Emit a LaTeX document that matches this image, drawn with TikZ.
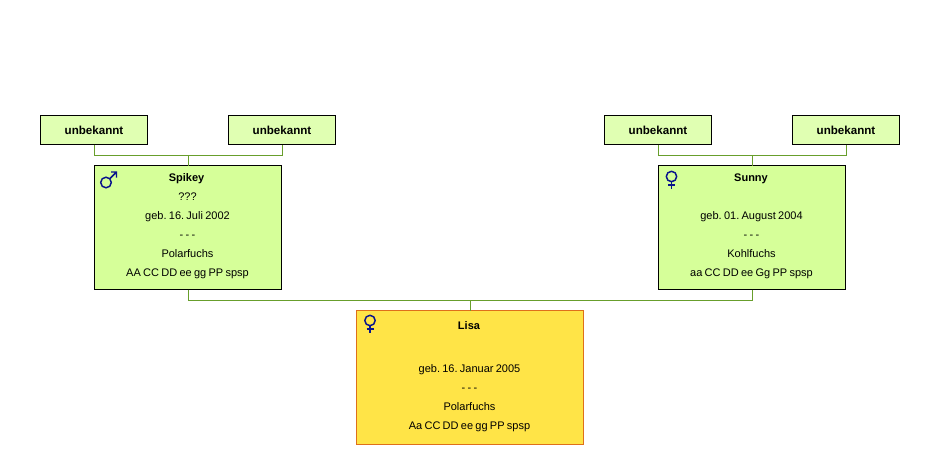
\documentclass[tikz,border=0pt]{standalone}
\usepackage{fontspec}
\setmainfont[WordSpace=0.75]{Liberation Sans}
\definecolor{lightbox}{RGB}{224,255,178}
\definecolor{parentbox}{RGB}{214,255,153}
\definecolor{childbox}{RGB}{255,228,71}
\definecolor{childedge}{RGB}{222,112,26}
\definecolor{linkgreen}{RGB}{104,158,44}
\definecolor{symblue}{RGB}{10,20,140}
\tikzset{
  x=0.75pt,y=-0.75pt,
  box/.style={draw=black,line width=0.75pt,inner sep=0pt,outer sep=0pt,anchor=north west},
  unknownbox/.style={box,fill=lightbox,minimum width=80.25pt,minimum height=21.75pt,font=\fontsize{8.7}{10}\selectfont\bfseries,text=black},
  parentnode/.style={box,fill=parentbox,minimum width=140.25pt,minimum height=93pt},
  childnode/.style={box,draw=childedge,fill=childbox,minimum width=170.25pt,minimum height=100.5pt},
  link/.style={draw=linkgreen,line width=0.75pt},
  titletext/.style={anchor=base,inner sep=0pt,font=\fontsize{8.25}{10}\selectfont\bfseries\frenchspacing},
  linetext/.style={anchor=base,inner sep=0pt,font=\fontsize{8.25}{10}\selectfont\frenchspacing},
  sym/.style={draw=symblue,line width=1.1pt}
}
\begin{document}
\begin{tikzpicture}
\useasboundingbox (0,0) rectangle (940,465);
\fill[white] (0,0) rectangle (940,465);
% boxes
\node[unknownbox] (u1) at (40.5,115.5) {unbekannt};
\node[unknownbox] (u2) at (228.5,115.5) {unbekannt};
\node[unknownbox] (u3) at (604.5,115.5) {unbekannt};
\node[unknownbox] (u4) at (792.5,115.5) {unbekannt};
\node[parentnode] (spikey) at (94.5,165.5) {};
\node[parentnode] (sunny) at (658.5,165.5) {};
\node[childnode] (lisa) at (356.5,310.5) {};
% junctions
\coordinate (j1) at (188.5,155.5);
\coordinate (j2) at (752.5,155.5);
\coordinate (j3) at (470.5,300.5);
% connectors
\draw[link] (u1.south -| spikey.west) |- (j1) -| ([xshift=0.375pt]u2.south);
\draw[link] (j1) -- (j1 |- spikey.north);
\draw[link] (u3.south -| sunny.west) |- (j2) -| ([xshift=0.375pt]u4.south);
\draw[link] (j2) -- (j2 |- sunny.north);
\draw[link] (j1 |- spikey.south) |- (j3);
\draw[link] (j2 |- sunny.south) |- (j3);
\draw[link] (j3) -- (j3 |- lisa.north);
% Spikey
\node[titletext] (s0) at (186.5,181) {Spikey};
\node[linetext] (s1) at (187.5,200) {???};
\node[linetext] (s2) at (187.5,219) {geb. 16. Juli 2002};
\node[linetext] (s3) at (187.5,238) {- - -};
\node[linetext] (s4) at (187.5,257) {Polarfuchs};
\node[linetext] (s5) at (187.5,276) {AA CC DD ee gg PP spsp};
% Sunny
\node[titletext] (n0) at (751,181) {Sunny};
\node[linetext] (n2) at (751.5,219) {geb. 01. August 2004};
\node[linetext] (n3) at (751.5,238) {- - -};
\node[linetext] (n4) at (751.5,257) {Kohlfuchs};
\node[linetext] (n5) at (751.5,276) {aa CC DD ee Gg PP spsp};
% Lisa
\node[titletext] (l0) at (469,329) {Lisa};
\node[linetext] (l2) at (469.5,372) {geb. 16. Januar 2005};
\node[linetext] (l3) at (469.5,391) {- - -};
\node[linetext] (l4) at (469.5,410) {Polarfuchs};
\node[linetext] (l5) at (469.5,429) {Aa CC DD ee gg PP spsp};
% gender symbols
\draw[sym] (106,182.5) circle[radius=5.3];
\draw[sym] (109.8,178.7) -- (116.5,172) (111,172) -- (116.5,172) -- (116.5,177.5);
\draw[sym] (671.5,176.5) circle[radius=5.2];
\draw[sym] (671.5,181.7) -- (671.5,188.5) (668,185) -- (675,185);
\draw[sym] (370,320.5) circle[radius=5.2];
\draw[sym] (370,325.7) -- (370,333) (366.5,329) -- (373.5,329);
\end{tikzpicture}
\end{document}
